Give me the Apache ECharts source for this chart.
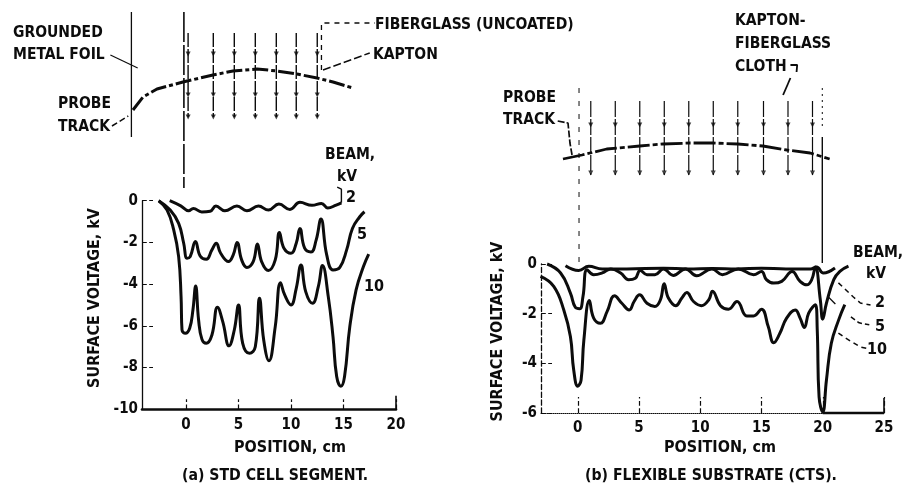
<!DOCTYPE html>
<html><head><meta charset="utf-8">
<style>html,body{margin:0;padding:0;background:#fff}#c{width:904px;height:488px}</style>
<script src="https://cdn.jsdelivr.net/npm/echarts@6/dist/echarts.min.js"></script>
</head><body><div id="c"></div>
<script>
// ---- (a) STD CELL SEGMENT: position cm, surface voltage kV
const a2 = [[-1.55,0],[-0.5,-0.25],[0.25,-0.48],[0.7,-0.37],[1.5,-0.54],[2.3,-0.51],[2.85,-0.26],[3.7,-0.48],[4.85,-0.26],[5.8,-0.48],[6.9,-0.26],[7.85,-0.45],[8.85,-0.16],[9.9,-0.42],[10.85,-0.08],[12,-0.22],[12.9,-0.13],[13.5,-0.35],[14.3,-0.21],[14.8,-0.1]];
const a5 = [[-2.6,0],[-1.5,-0.45],[-0.7,-1.09],[-0.22,-2.04],[0.1,-2.76],[0.4,-2.68],[0.9,-1.96],[1.35,-2.65],[1.93,-2.81],[2.47,-2.36],[2.88,-2.04],[3.3,-2.52],[4.05,-2.92],[4.5,-2.6],[4.87,-2],[5.3,-2.84],[5.8,-3.2],[6.4,-2.92],[6.8,-2.08],[7.2,-2.92],[7.85,-3.35],[8.5,-2.84],[8.9,-1.53],[9.33,-2.28],[10,-2.52],[10.5,-2.04],[10.85,-1.33],[11.3,-2.28],[11.9,-2.46],[12.4,-1.88],[12.85,-0.88],[13.4,-2.6],[14,-3.32],[14.65,-3.2],[15.3,-2.36],[15.85,-1.33],[16.55,-0.77],[17,-0.53]];
const a10 = [[-2.6,0],[-1.8,-0.45],[-1.17,-1.4],[-0.7,-2.68],[-0.47,-4.6],[-0.38,-6.2],[-0.06,-6.36],[0.35,-6.12],[0.66,-5.24],[0.92,-4.09],[1.2,-5.72],[1.52,-6.65],[1.93,-6.84],[2.47,-6.44],[3,-5.11],[3.5,-5.8],[4.1,-6.96],[4.6,-6.2],[5,-5],[5.4,-6.84],[6.05,-7.32],[6.6,-7],[7,-4.68],[7.4,-6.68],[7.9,-7.68],[8.5,-6.04],[9,-3.93],[9.4,-4.52],[10,-5],[10.5,-4.2],[10.95,-3.08],[11.4,-4.36],[12.05,-4.92],[12.6,-4.12],[13,-3.11],[13.55,-4.6],[14,-6.52],[14.35,-8.43],[14.75,-8.9],[15.1,-8.43],[15.6,-6.04],[16.2,-4.28],[16.9,-3.16],[17.4,-2.56]];
// ---- (b) FLEXIBLE SUBSTRATE (CTS)
const b2 = [[-1,-0.07],[0.08,-0.26],[0.9,-0.09],[2,-0.2],[4,-0.2],[7,-0.17],[9,-0.2],[11,-0.18],[13,-0.2],[15,-0.17],[17,-0.2],[19,-0.2],[19.5,-0.12],[20.05,-0.36],[21,-0.16]];
const b5 = [[-2.5,0],[-1.4,-0.36],[-0.6,-1.17],[-0.2,-1.74],[0.16,-1.8],[0.43,-1.3],[0.76,-0.23],[1.3,-0.43],[2,-0.36],[2.7,-0.2],[3.5,-0.36],[4.15,-0.63],[4.7,-0.57],[5.1,-0.26],[5.65,-0.43],[6.3,-0.43],[7,-0.2],[7.8,-0.46],[8.8,-0.2],[9.7,-0.47],[10.95,-0.2],[11.8,-0.43],[13.1,-0.2],[14.35,-0.43],[15,-0.3],[15.4,-0.63],[16,-0.77],[16.65,-0.7],[17.5,-0.3],[18.15,-0.7],[18.7,-0.84],[19.1,-0.63],[19.4,-0.12],[19.8,-1.44],[20,-2.22],[20.3,-1.58],[20.9,-0.63],[21.4,-0.3],[22.1,-0.09]];
const b10 = [[-3.04,-0.5],[-1.96,-0.9],[-1.14,-1.85],[-0.6,-2.92],[-0.33,-4.27],[0,-4.92],[0.27,-4.68],[0.5,-3.06],[0.95,-1.47],[1.3,-2.18],[1.85,-2.39],[2.4,-1.91],[3,-1.28],[3.6,-1.58],[4.2,-1.85],[4.6,-1.51],[5.05,-1.24],[5.65,-1.58],[6.3,-1.71],[6.75,-1.44],[7.05,-0.8],[7.4,-1.37],[8,-1.68],[8.5,-1.37],[8.9,-1.15],[9.45,-1.51],[10.1,-1.68],[10.7,-1.44],[11,-1.1],[11.65,-1.68],[12.3,-1.82],[13,-1.51],[13.8,-2.09],[14.35,-2.09],[15,-1.82],[15.55,-2.52],[16,-3.17],[16.5,-2.79],[17.05,-2.18],[17.75,-1.85],[18.15,-2.18],[18.5,-2.56],[18.85,-1.98],[19.4,-1.64],[19.55,-2.65],[19.7,-5.35],[20,-5.96],[20.3,-4.68],[20.7,-3.19],[21.3,-2.25],[21.8,-1.64]];
// ---- leader lines inside the plots
const aLeader2 = [[14.8,-0.1],[14.8,0.55],[14.4,0.65]];
const bLeader2 = [[21.28,-0.76],[22.5,-1.33],[23.07,-1.57],[23.9,-1.65]];
const bLeader5a = [[20.46,-1.33],[21.03,-1.61]];
const bLeader5b = [[22.3,-2.13],[22.97,-2.37],[23.8,-2.45]];
const bLeader10 = [[21.28,-2.78],[21.85,-2.98],[23.07,-3.34],[23.8,-3.42]];
const bAxisEnd = [[20,-6],[25,-6]];
const aTick20 = [[20,-10],[20,-9.35]];
const bTick25 = [[25,-6],[25,-5.4]];
// ---- axis ticks
const xTicksA = [0,5,10,15,20];
const xTicksB = [0,5,10,15,20,25];
// ---- schematic (a): x in cm, y in schematic height units (downward)
const aFoil = [[-5.2,12],[-5.2,137]];
const aFoilLead = [[-7.2,55],[-4.6,68]];
const aDatum = [[-0.2,12],[-0.2,188]];
const aTrack = [[-5.05,110],[-4.1,97],[-2.76,89],[-0.29,82],[2.57,75],[4.48,71],[6.76,69],[8.67,71],[10.57,74],[12.48,78],[14,82],[15.9,88]];
const aTrackLead = [[-7.05,126],[-5.5,116]];
const aCells = [0.2,2.6,4.6,6.6,8.6,10.5,12.5];
const aCellSpan = [33,117];
const aGlass = [[12.9,70],[12.9,23],[18,23]];
const aKaptonLead = [[13.05,70],[17.5,53]];
// ---- schematic (b)
const bDatum = [[0.14,88],[0.14,263]];
const bEdge = [[20,137],[20,263]];
const bEdgeTop = [[20,88],[20,130]];
const bTrack = [[-1.17,159],[0.38,155],[2.4,149],[5.1,146],[7,144],[9.2,143],[11.05,143],[13.1,144],[15.15,146],[17.1,150],[19,153],[20.6,159]];
const bTrackLead = [[-1.6,121],[-0.76,123],[-0.6,143],[-0.43,155]];
const bCells = [1.1,3.1,5.1,7.1,9.1,11.1,13.1,15.2,17.2,19.2];
const bCellSpan = [101,175];
const bCloth = [[16.8,95],[17.4,78]];
const bClothHook = [[17.4,65],[17.95,65],[17.9,72]];

const INK = '#0c0c0c';
const FONT = '"DejaVu Sans Condensed", "Liberation Sans", sans-serif';
const line = (data, xi, yi, w, extra) => Object.assign({type:'line', data, xAxisIndex:xi, yAxisIndex:yi, showSymbol:false, silent:true, clip:false,
  connectNulls:false, lineStyle:{color:INK, width:w}}, extra||{});
const curve = (data, xi, yi) => line(data, xi, yi, 3, {smooth:0.45});
const dashed = (data, xi, yi, w, dash) => { const s = line(data, xi, yi, w); s.lineStyle.type = dash; return s; };
const bars = (xs, span) => xs.flatMap(x => [[x,span[0]],[x,span[1]],[x,null]]);
const arrows = (xs, ys, xi, yi) => ({type:'scatter', xAxisIndex:xi, yAxisIndex:yi, silent:true, symbol:'triangle', symbolRotate:180, symbolSize:5,
  itemStyle:{color:INK}, data: xs.flatMap(x => ys.map(y => [x,y]))});

const valAxis = (grid, min, max, ticks, dash, lw, tlen, gap, shift) => ({type:'value', gridIndex:grid, min, max,
  axisLine:{show:true, onZero:false, lineStyle:{color:INK, width:lw, type:dash}},
  axisTick:{show:true, inside:true, length:tlen, customValues:ticks, lineStyle:{color:INK, width:1.2, type:'dashed'}},
  axisLabel:{customValues:ticks, color:INK, fontFamily:FONT, fontWeight:'bold', fontSize:15, margin:8},
  splitLine:{show:false}, name:'POSITION, cm', nameLocation:'middle', nameGap:gap,
  nameTextStyle:{color:INK, fontFamily:FONT, fontWeight:'bold', fontSize:16, padding:[0,0,0,shift]}});
const kvAxis = (grid, min, dash, gap, shift) => ({type:'value', gridIndex:grid, min, max:0, interval:2,
  axisLine:{show:true, onZero:false, lineStyle:{color:INK, width:1.3, type:dash}},
  axisTick:{show:true, inside:true, length:11, lineStyle:{color:INK, width:1.2, type:'dashed'}},
  axisLabel:{color:INK, fontFamily:FONT, fontWeight:'bold', fontSize:15, margin:4},
  splitLine:{show:false}, name:'SURFACE VOLTAGE, kV', nameLocation:'middle', nameGap:gap, nameRotate:90,
  nameTextStyle:{color:INK, fontFamily:FONT, fontWeight:'bold', fontSize:16, padding:[0,0,0,shift]}});
const hidden = (grid, min, max, inverse) => ({type:'value', gridIndex:grid, min, max, inverse:!!inverse, show:false, splitLine:{show:false}});

const txt = (left, top, text, size, lh) => ({type:'text', left, top, silent:true,
  style:{text, fill:INK, font:'bold '+size+'px '+FONT, lineHeight:lh||22}});

const option = {
  animation:false, backgroundColor:'#fff',
  grid:[
    {left:142, top:200.7, width:254, height:208.5},
    {left:541, top:264, width:343, height:149},
    {left:0, top:0, width:440, height:264},
    {left:490, top:0, width:414, height:264}
  ],
  xAxis:[valAxis(0,-4.19,20,xTicksA,'solid',2.6,10,31,42), valAxis(1,-3,25,xTicksB,'dotted',1,16,27,15),
         hidden(2,-17.714,24.19), hidden(3,-7.127,26.67)],
  yAxis:[kvAxis(0,-10,'solid',39,14), kvAxis(1,-6,'dashed',35,14), hidden(2,0,264,true), hidden(3,0,264,true)],
  series:[
    curve(a2,0,0), curve(a5,0,0), curve(a10,0,0),
    line(aLeader2,0,0,1.4), line(aTick20,0,0,1.6),
    curve(b2,1,1), curve(b5,1,1), curve(b10,1,1),
    line(bAxisEnd,1,1,2.6), line(bTick25,1,1,1.6),
    dashed(bLeader2,1,1,1.5,[5,4]), line(bLeader5a,1,1,1.3), dashed(bLeader5b,1,1,1.5,[5,3]), dashed(bLeader10,1,1,1.5,[5,4]),
    line(aFoil,2,2,1.3), line(aFoilLead,2,2,1.2), dashed(aDatum,2,2,1.6,[30,3]),
    dashed(aTrack,2,2,3,[16,3,4,3]), dashed(aTrackLead,2,2,1.5,[6,3]),
    dashed(bars(aCells,aCellSpan),2,2,1.4,[14,2]), arrows(aCells,[54,95,117],2,2),
    dashed(aGlass,2,2,1.3,[5,5]), dashed(aKaptonLead,2,2,1.4,[8,3]),
    dashed(bDatum,3,3,1,[5,8]), line(bEdge,3,3,1.4), dashed(bEdgeTop,3,3,1,[2,4]),
    dashed(bTrack,3,3,2.8,[22,3,5,3]), dashed(bTrackLead,3,3,1.7,[7,2]),
    dashed(bars(bCells,bCellSpan),3,3,1.2,[16,2]), arrows(bCells,[125,173],3,3),
    line(bCloth,3,3,1.8), line(bClothHook,3,3,1.8)
  ],
  graphic:[
    txt(13,22,'GROUNDED\nMETAL FOIL',15.5),
    txt(58,92,'PROBE\nTRACK',15.5,23),
    txt(375,14,'FIBERGLASS (UNCOATED)',15.5),
    txt(373,44,'KAPTON',15.5),
    txt(325,144,'BEAM,',15.5), txt(337,166,'kV',15.5),
    txt(346,187,'2',16), txt(357,224,'5',16), txt(364,276,'10',16),
    txt(182,465,'(a) STD CELL SEGMENT.',15.7),
    txt(503,87,'PROBE\nTRACK',15.5),
    txt(735,9,'KAPTON-\nFIBERGLASS\nCLOTH',15.5,23),
    txt(853,242,'BEAM,',15.5), txt(866,263,'kV',15.5),
    txt(875,292,'2',16), txt(875,316,'5',16), txt(867,339,'10',16),
    txt(585,465,'(b) FLEXIBLE SUBSTRATE (CTS).',15.7)
  ]
};
echarts.init(document.getElementById('c'),null,{renderer:'canvas'}).setOption(option);
</script></body></html>
